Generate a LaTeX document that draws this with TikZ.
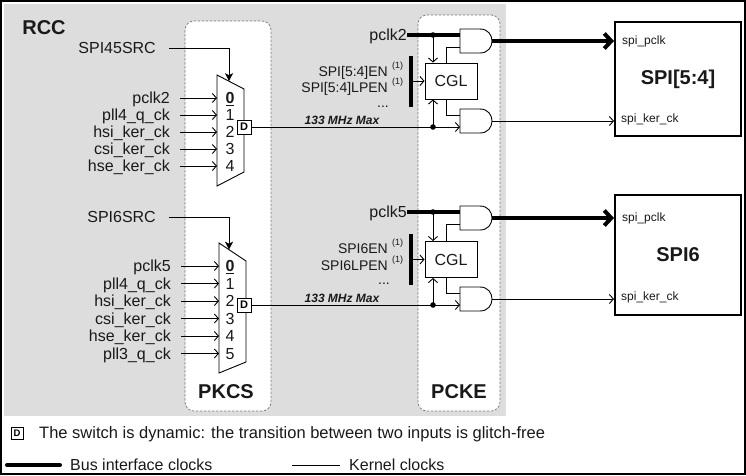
\documentclass[tikz,border=0pt]{standalone}
\usepackage{fontspec}
\setmainfont{Liberation Sans}
\usetikzlibrary{arrows.meta,calc}
\definecolor{rccgray}{RGB}{221,221,221}
\definecolor{txt}{RGB}{25,25,25}
\definecolor{dashc}{RGB}{120,120,120}
\newcommand{\myAndGate}[3]{%
  \coordinate (#1-in1) at (#2,#3+6);
  \coordinate (#1-in2) at (#2,#3+18);
  \coordinate (#1-out) at (#2+32,#3+12);
  \draw[wire,fill=white] (#2,#3) -- (#2+20,#3) .. controls (#2+36,#3) and (#2+36,#3+24) .. (#2+20,#3+24) -- (#2,#3+24) -- cycle;}
\begin{document}
\begin{tikzpicture}[x=1pt,y=-1pt,
  lbl/.style={font=\fontsize{16}{16}\selectfont, text=txt, inner sep=0pt, text height=11.5pt, text depth=0pt},
  leg/.style={font=\fontsize{16.5}{16.5}\selectfont, text=txt, inner sep=0pt, text height=11.8pt, text depth=0pt},
  en/.style={font=\fontsize{14}{14}\selectfont, text=txt, inner sep=0pt, text height=10pt, text depth=0pt},
  sup/.style={font=\fontsize{9}{9}\selectfont, text=txt, inner sep=0pt},
  sm/.style={font=\fontsize{12}{12}\selectfont, text=txt, inner sep=0pt, text height=8.6pt, text depth=0pt},
  ttl/.style={font=\fontsize{20}{20}\selectfont\bfseries, text=txt, inner sep=0pt, text height=14.3pt, text depth=0pt},
  mhz/.style={font=\fontsize{12}{12}\selectfont\bfseries\itshape, text=txt, inner sep=0pt, text height=8.6pt, text depth=0pt},
  wire/.style={line width=0.9pt, draw=black},
  bus/.style={line width=4pt, draw=black},
  arr/.style={-{Straight Barb[length=4pt,width=9pt]}},
  busarr/.style={-{Straight Barb[length=7pt,width=15pt]}},
  selarr/.style={-{Stealth[length=8pt,width=8pt,inset=2pt]}},
  dbox/.style={draw, line width=0.9pt, fill=white, minimum size=14pt, inner sep=0pt, font=\fontsize{11}{11}\selectfont\bfseries},
  cglbox/.style={draw, line width=0.9pt, fill=white, minimum width=52pt, minimum height=36pt, inner sep=0pt, font=\fontsize{16}{16}\selectfont, text=txt},
  barbox/.style={fill=black, minimum width=4pt, minimum height=51pt, inner sep=0pt},
  spibox/.style={draw, line width=2pt, fill=white, minimum width=126pt, inner sep=0pt, font=\fontsize{20}{20}\selectfont\bfseries, text=txt},
  dashbox/.style={draw=dashc, dash pattern=on 2.5pt off 1.5pt, line width=0.7pt, fill=white, rounded corners=9pt}
]
\useasboundingbox (0,0) rectangle (746,475);
\fill[rccgray] (4,4) rectangle (506,416);
\draw[dashbox] (185,21) rectangle (271,411);
\draw[dashbox] (418,15) rectangle (500,411);
\draw[line width=1.6pt] (0.8,0.8) rectangle (745.2,474.2);

\node[ttl] (rcc) at (44,27) {RCC};
\node[ttl] (pkcs) at (226,391) {PKCS};
\node[ttl] (pcke) at (459,391) {PCKE};

% ---------- mux 1 ----------
\draw[wire,fill=white] (217,75) -- (244,89) -- (244,172) -- (217,186) -- cycle;
\coordinate (m1top) at (229,81.2);
\node[lbl,anchor=east] (src1) at (156,48) {SPI45SRC};
\draw[wire,selarr] ([xshift=13pt]src1.east) -| (m1top);
\foreach \i/\lab/\y in {0/pclk2/98,1/pll4\_q\_ck/115,2/hsi\_ker\_ck/132,3/csi\_ker\_ck/149,4/hse\_ker\_ck/166}{
  \node[lbl,anchor=east] (a\i) at (170,\y) {\lab};
  \coordinate (ai\i) at (217,\y);
  \draw[wire,arr] ([xshift=10pt]a\i.east) -- (ai\i);
}
\node[lbl] (an0) at (230,98) {\underline{\textbf{0}}};
\foreach \i/\y in {1/115,2/132,3/149,4/166}{
  \node[lbl] (an\i) at (230,\y) {\i};
}
\node[dbox] (d1) at (244,127) {D};

% ---------- PCKE 1 ----------
\node[lbl,anchor=east] (pc1) at (407,35) {pclk2};
\myAndGate{g1a}{460}{29}
\myAndGate{g1b}{460}{109}
\node[cglbox] (cgl1) at (451,81) {CGL};
\node[barbox] (bar1) at (411,81) {};
\node[en,anchor=east] (en1) at (388,71) {SPI[5:4]EN};
\node[sup,anchor=west] (en1s) at (392,66) {(1)};
\node[en,anchor=east] (lp1) at (388,87) {SPI[5:4]LPEN};
\node[sup,anchor=west] (lp1s) at (392,82) {(1)};
\node[en] (dots1) at (383,102) {...};
\coordinate (j1t) at (433,35);
\coordinate (j1b) at (433,127);
\draw[bus] (pc1.east) -- (g1a-in1);
\draw[wire,arr] (j1t) -- (j1t |- cgl1.north);
\draw[wire] ([xshift=-5pt]cgl1.north) |- (g1a-in2);
\draw[wire] ([xshift=-5pt]cgl1.south) |- (g1b-in1);
\draw[wire,arr] (bar1.east) -- (cgl1.west);
\draw[wire] (d1.east) -- (j1b);
\draw[wire,arr] (j1b) -- (g1b-in2);
\draw[wire,arr] (j1b) -- (j1b |- cgl1.south);
\fill (j1t) circle[radius=2.8pt];
\fill (j1b) circle[radius=2.8pt];
\node[mhz] (mhz1) at (342,120) {133 MHz Max};

\node[spibox, minimum height=114pt] (spi1) at (678,79) {SPI[5:4]};
\draw[bus,busarr] (g1a-out) -- (g1a-out -| spi1.west);
\draw[wire,arr] (g1b-out) -- (g1b-out -| spi1.west);
\node[sm,anchor=west] (pk1) at (622,40) {spi\_pclk};
\node[sm,anchor=west] (kc1) at (621,118) {spi\_ker\_ck};

% ---------- mux 2 ----------
\draw[wire,fill=white] (219,243) -- (246,261) -- (246,362) -- (219,373) -- cycle;
\coordinate (m2top) at (229,249.7);
\node[lbl,anchor=east] (src2) at (156,217) {SPI6SRC};
\draw[wire,selarr] ([xshift=13pt]src2.east) -| (m2top);
\foreach \i/\lab/\y in {0/pclk5/266,1/pll4\_q\_ck/283.5,2/hsi\_ker\_ck/301,3/csi\_ker\_ck/318.5,4/hse\_ker\_ck/336,5/pll3\_q\_ck/353.5}{
  \node[lbl,anchor=east] (b\i) at (171,\y) {\lab};
  \coordinate (bi\i) at (219,\y);
  \draw[wire,arr] ([xshift=10pt]b\i.east) -- (bi\i);
}
\node[lbl] (bn0) at (230,266) {\underline{\textbf{0}}};
\foreach \i/\y in {1/283.5,2/301,3/318.5,4/336,5/353.5}{
  \node[lbl] (bn\i) at (230,\y) {\i};
}
\node[dbox] (d2) at (244,305) {D};

% ---------- PCKE 2 ----------
\node[lbl,anchor=east] (pc2) at (407,212) {pclk5};
\myAndGate{g2a}{460}{206}
\myAndGate{g2b}{460}{287}
\node[cglbox] (cgl2) at (451,259.5) {CGL};
\node[barbox] (bar2) at (411,259.5) {};
\node[en,anchor=east] (en2) at (388,248) {SPI6EN};
\node[sup,anchor=west] (en2s) at (392,243) {(1)};
\node[en,anchor=east] (lp2) at (388,265) {SPI6LPEN};
\node[sup,anchor=west] (lp2s) at (392,260) {(1)};
\node[en] (dots2) at (384,279) {...};
\coordinate (j2t) at (433,212);
\coordinate (j2b) at (433,305);
\draw[bus] (pc2.east) -- (g2a-in1);
\draw[wire,arr] (j2t) -- (j2t |- cgl2.north);
\draw[wire] ([xshift=-5pt]cgl2.north) |- (g2a-in2);
\draw[wire] ([xshift=-5pt]cgl2.south) |- (g2b-in1);
\draw[wire,arr] (bar2.east) -- (cgl2.west);
\draw[wire] (d2.east) -- (j2b);
\draw[wire,arr] (j2b) -- (g2b-in2);
\draw[wire,arr] (j2b) -- (j2b |- cgl2.south);
\fill (j2t) circle[radius=2.8pt];
\fill (j2b) circle[radius=2.8pt];
\node[mhz] (mhz2) at (342,298) {133 MHz Max};

\node[spibox, minimum height=120pt] (spi2) at (678,255) {SPI6};
\draw[bus,busarr] (g2a-out) -- (g2a-out -| spi2.west);
\draw[wire,arr] (g2b-out) -- (g2b-out -| spi2.west);
\node[sm,anchor=west] (pk2) at (622,217) {spi\_pclk};
\node[sm,anchor=west] (kc2) at (621,296) {spi\_ker\_ck};

% ---------- legend ----------
\node[dbox,minimum size=12pt,font=\fontsize{9.5}{9.5}\selectfont\bfseries] (dl) at (17,433) {D};
\node[leg,anchor=west] (lt) at (39,433) {The switch is dynamic: the transition between two inputs is glitch-free};
\coordinate (bl1) at (7,465);
\coordinate (bl2) at (60,465);
\draw[bus,line cap=round] (bl1) -- (bl2);
\node[lbl,anchor=west] (bt) at (70,465) {Bus interface clocks};
\coordinate (kl1) at (292,465);
\coordinate (kl2) at (340,465);
\draw[wire] (kl1) -- (kl2);
\node[lbl,anchor=west] (kt) at (349,465) {Kernel clocks};
\end{tikzpicture}
\end{document}
